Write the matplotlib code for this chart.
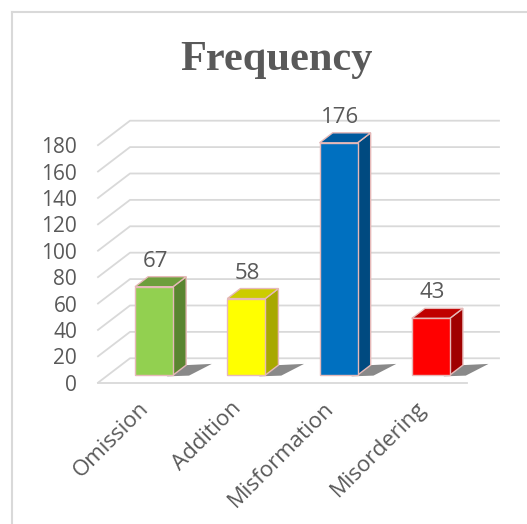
import matplotlib.pyplot as plt
from matplotlib.patches import Polygon
from matplotlib.lines import Line2D

# data
categories = ['Omission', 'Addition', 'Misformation', 'Misordering']
values = [67, 58, 176, 43]
front_colors = ['#92D050', '#FFFF00', '#0070C0', '#FF0000']
top_colors = ['#6E9E3C', '#CCCC00', '#005A9E', '#C00000']
side_colors = ['#5A8530', '#A8A800', '#004A80', '#A00000']
yticks = list(range(0, 181, 20))

# fake 3d depth offsets (category units, value units)
DX = 0.347
DY = 18.5
z0, z1 = 0.31, 0.72   # bar front / back depth
hw = 0.206            # half bar width

grid_color = '#D9D9D9'
text_color = '#595959'
edge_color = '#E6B9B8'

plt.rcParams['font.family'] = ['Open Sans', 'DejaVu Sans']

fig = plt.figure(figsize=(5.27, 5.24), dpi=100)
W, H = 527, 524
ax = fig.add_axes([98 / W, (H - 382.7) / H, 401 / W, 262 / H])
ax.set_xlim(-0.5, 3.5 + DX)
ax.set_ylim(0, 180 + DY)
for s in ax.spines.values():
    s.set_visible(False)
ax.set_xticks([])
ax.set_yticks(yticks)
ax.tick_params(axis='y', length=0, pad=15, labelsize=15, labelcolor=text_color)


def proj(x, y, z):
    return (x + z * DX, y + z * DY)


# gridlines with diagonal wall edge
x0, x1 = -0.5, 3.5
for v in yticks:
    pts = [proj(x0, v, 0), proj(x0, v, 1), proj(x1, v, 1)]
    ax.plot([p[0] for p in pts], [p[1] for p in pts], color=grid_color,
            lw=1.3, clip_on=False, zorder=1)
ax.plot([x0, x1], [0, 0], color=grid_color, lw=1.3, clip_on=False, zorder=1)

for i, v in enumerate(values):
    l, r = i - hw, i + hw
    # shadow on the floor
    shadow = [proj(r - 0.05, 0, z0 - 0.05), proj(r + 0.18, 0, z0 - 0.02),
              proj(r + 0.26, 0, z1 + 0.05), proj(r, 0, z1)]
    ax.add_patch(Polygon(shadow, closed=True, facecolor='#3A3A3A', alpha=0.6,
                         edgecolor='none', zorder=2, clip_on=False))
    side = [proj(r, 0, z0), proj(r, v, z0), proj(r, v, z1), proj(r, 0, z1)]
    top = [proj(l, v, z0), proj(r, v, z0), proj(r, v, z1), proj(l, v, z1)]
    front = [proj(l, 0, z0), proj(r, 0, z0), proj(r, v, z0), proj(l, v, z0)]
    for poly, c in [(side, side_colors[i]), (top, top_colors[i]), (front, front_colors[i])]:
        ax.add_patch(Polygon(poly, closed=True, facecolor=c, edgecolor=edge_color,
                             lw=1.0, zorder=3, clip_on=False))
    ax.text(i + 0.12, v + 25, str(v), ha='center', va='center',
            fontsize=16, color=text_color, zorder=4)
    ax.text(i + 0.02, -17, categories[i], rotation=45, ha='right', va='center',
            rotation_mode='anchor', fontsize=16, color=text_color)

fig.text(276 / W, 1 - 60 / H, 'Frequency', ha='center', va='center',
         fontsize=30.5, fontweight='bold', family='Liberation Serif', color=text_color)

# outer chart border
fig.add_artist(Line2D([12 / W, 1], [1 - 12 / H, 1 - 12 / H], color=grid_color, lw=1.5))
fig.add_artist(Line2D([12 / W, 12 / W], [0, 1 - 12 / H], color=grid_color, lw=1.5))

fig.savefig('out.png', dpi=100)
